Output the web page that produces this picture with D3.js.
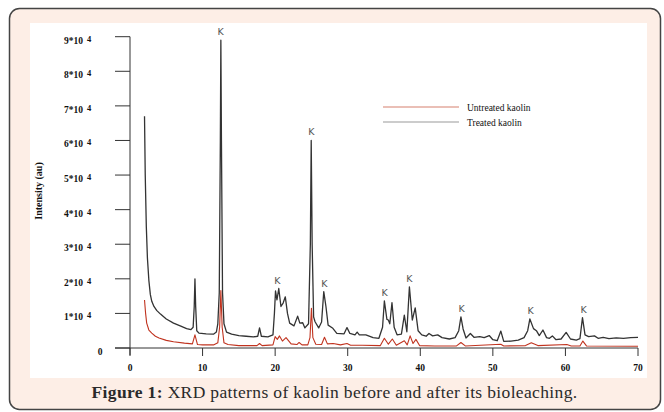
<!DOCTYPE html>
<html>
<head>
<meta charset="utf-8">
<script src="https://cdn.jsdelivr.net/npm/d3@7"></script>
<style>
  body { margin: 0; background: #fff; }
  svg { display: block; }
</style>
</head>
<body>
<div id="container"></div>
<script>
// XRD patterns, 2-theta (deg) vs intensity (au)
var treatedAngle = [2.0, 2.1, 2.25, 2.4, 2.6, 2.8, 3.0, 3.3, 3.7, 4.2, 5.0, 6.0, 7.0, 7.8, 8.4, 8.7, 8.85, 8.95, 9.05, 9.2, 9.5,
  10.5, 11.5, 11.9, 12.1, 12.3, 12.45, 12.52, 12.6, 12.75, 12.95, 13.3, 14, 15, 16, 17, 17.6, 17.85, 18.1, 19, 19.7, 19.9,
  20.05, 20.25, 20.5, 20.8, 21.1, 21.4, 21.7, 22.0, 22.6, 23.1, 23.4, 23.8, 24.1, 24.6, 24.85, 24.97, 25.1, 25.3, 25.5, 26.0,
  26.4, 26.7, 27.0, 27.3, 27.9, 28.5, 29.5, 29.9, 30.3, 31.0, 31.3, 31.6, 32.5, 33.5, 34.3, 34.8, 35.05, 35.4, 35.6, 35.8,
  36.1, 36.4, 36.8, 37.4, 37.8, 38.15, 38.5, 38.9, 39.3, 39.7, 40.2, 40.8, 41.2, 41.7, 42.4, 43.0, 44.0, 44.8, 45.3, 45.6,
  45.9, 46.3, 46.9, 47.4, 48.2, 48.8, 49.5, 50.0, 50.6, 51.1, 51.5, 52.5, 53.5, 54.3, 54.8, 55.1, 55.6, 56.0, 56.4, 56.9,
  57.4, 57.8, 58.2, 58.7, 59.4, 60.1, 60.7, 61.5, 62.0, 62.35, 62.7, 63.2, 64.0, 64.5, 65.2, 66, 67, 68, 69, 70];
var treatedCounts = [67000, 50000, 35000, 26000, 19500, 15500, 13500, 12000, 10800, 9800, 8400, 7200, 6300, 5600, 5300, 6000, 12000, 20000, 12000, 5000, 4300,
  4100, 4000, 4600, 7000, 16000, 60000, 89000, 60000, 16000, 7000, 4600, 4000, 3600, 3400, 3200, 3400, 5800, 3400, 3200, 3800, 10000,
  16500, 13900, 17200, 12000, 13000, 14800, 10000, 7200, 6400, 9200, 7200, 7300, 5800, 7000, 30000, 60000, 30000, 9000, 7600, 5800,
  7500, 16300, 12000, 6600, 5800, 4200, 4100, 5900, 4200, 3800, 4600, 3800, 3800, 3000, 2800, 6000, 13600, 8300, 8100, 7000,
  13100, 6000, 3800, 4000, 9500, 4700, 17700, 8100, 11600, 5000, 3800, 3400, 4200, 3500, 3800, 3000, 2600, 3000, 5000, 9000,
  5500, 2900, 4200, 3100, 3300, 3000, 3600, 2400, 2100, 4900, 1900, 2000, 2300, 3000, 5000, 8400, 5600, 5000, 3600, 5200,
  3000, 2800, 3500, 2400, 2600, 4500, 2600, 2300, 2700, 8800, 3800, 3300, 3500, 2800, 3100, 2700, 2900, 2800, 3000, 3100];

var untreatedAngle = [2.0, 2.15, 2.3, 2.6, 3.0, 3.5, 4.0, 5.0, 6.0, 7.5, 8.6, 8.95, 9.3, 10, 11.5, 12.1, 12.35, 12.52, 12.7, 12.95,
  13.5, 15, 17.5, 17.85, 18.2, 19.7, 20.0, 20.3, 20.6, 21.0, 21.5, 22.2, 23.0, 23.3, 23.7, 24.5, 24.8, 25.0, 25.2, 25.6,
  26.4, 26.8, 27.2, 28.0, 29, 29.9, 30.4, 32, 34.5, 35.05, 35.6, 36.15, 36.7, 37.8, 38.2, 38.6, 39.0, 39.4, 39.9, 42,
  45.0, 45.6, 46.2, 51.1, 51.5, 54.5, 55.3, 56.2, 60.2, 60.8, 62.0, 62.4, 62.9, 70];
var untreatedCounts = [13900, 10000, 7200, 5200, 4300, 3400, 2900, 2200, 1800, 1400, 1200, 3800, 1000, 900, 900, 1500, 6000, 16600, 6000, 1500,
  1000, 700, 700, 1300, 700, 900, 3300, 2500, 3500, 2000, 3000, 1200, 1000, 1600, 900, 900, 3000, 11500, 3000, 1100,
  1000, 3100, 1200, 1300, 900, 1300, 800, 800, 700, 2800, 1100, 2600, 800, 2100, 900, 3500, 1300, 2500, 700, 600,
  600, 1600, 600, 1100, 600, 700, 1500, 700, 1000, 600, 600, 2000, 600, 500];

// kaolinite reflections marked with "K"
var kAngle = [12.5, 20.3, 25.0, 26.8, 35.1, 38.5, 45.7, 55.2, 62.5];
var kCounts = [89000, 17200, 60000, 16300, 13600, 17700, 9000, 8400, 8800];

var xTicks = [0, 10, 20, 30, 40, 50, 60, 70];
var yTicks = [0, 10000, 20000, 30000, 40000, 50000, 60000, 70000, 80000, 90000];
var seriesNames = ["Untreated kaolin", "Treated kaolin"];
var seriesColors = ["#c0331f", "#333333"];

var W = 664, H = 412;
var svg = d3.select("#container").append("svg")
    .attr("width", W)
    .attr("height", H);

// frame
svg.append("rect")
    .attr("x", 9.5).attr("y", 8.5)
    .attr("width", 651).attr("height", 401)
    .attr("rx", 10)
    .style("fill", "#fdeee6")
    .style("stroke", "#444")
    .style("stroke-width", 1.5);

svg.append("rect")
    .attr("x", 30).attr("y", 23)
    .attr("width", 617).attr("height", 355)
    .style("fill", "#fff");

var x = d3.scaleLinear().domain([0, 70]).range([130, 638]);
var y = d3.scaleLinear().domain([0, 90000]).range([348, 36.7]);

var serif = "'Liberation Serif', 'Times New Roman', serif";

// y axis
var yAxis = svg.append("g");
yAxis.append("line")
    .attr("x1", 130).attr("x2", 130)
    .attr("y1", y(90000)).attr("y2", 355)
    .style("stroke", "#333").style("stroke-width", 1);
yAxis.selectAll(".ytick")
    .data(yTicks)
  .enter().append("line")
    .attr("x1", 115).attr("x2", 130)
    .attr("y1", function(d) { return y(d); })
    .attr("y2", function(d) { return y(d); })
    .style("stroke", "#333").style("stroke-width", 1);

var ylab = yAxis.selectAll(".ylab")
    .data(yTicks)
  .enter().append("text")
    .attr("x", function(d) { return d == 0 ? 100 : 64; })
    .attr("y", function(d) { return y(d) + 7; })
    .style("font-family", serif)
    .style("font-weight", "bold")
    .style("font-size", "9.5px")
    .style("fill", "#111")
    .style("text-anchor", function(d) { return d == 0 ? "middle" : "start"; });
ylab.each(function(d) {
  var t = d3.select(this);
  if (d == 0) { t.text("0"); return; }
  t.append("tspan").text((d / 10000) + "*10");
  t.append("tspan").attr("dx", 4).attr("dy", -2).style("font-size", "8.5px").text("4");
});

svg.append("text")
    .attr("transform", "translate(42,191) rotate(-90)")
    .style("font-family", serif)
    .style("font-weight", "bold")
    .style("font-size", "10px")
    .style("text-anchor", "middle")
    .style("fill", "#111")
    .text("Intensity (au)");

// x axis
var xAxis = svg.append("g");
xAxis.append("line")
    .attr("x1", 115).attr("x2", x(70))
    .attr("y1", 348).attr("y2", 348)
    .style("stroke", "#333").style("stroke-width", 1);
xAxis.selectAll(".xtick")
    .data(xTicks)
  .enter().append("line")
    .attr("x1", function(d) { return x(d); })
    .attr("x2", function(d) { return x(d); })
    .attr("y1", 348).attr("y2", 356)
    .style("stroke", "#333").style("stroke-width", 1);
xAxis.selectAll(".xlab")
    .data(xTicks)
  .enter().append("text")
    .attr("x", function(d) { return x(d); })
    .attr("y", 371)
    .style("font-family", serif)
    .style("font-weight", "bold")
    .style("font-size", "9.5px")
    .style("text-anchor", "middle")
    .style("fill", "#111")
    .text(function(d) { return d; });

// curves
var line = d3.line()
    .x(function(d) { return x(d[0]); })
    .y(function(d) { return y(d[1]); });

var untreated = untreatedAngle.map(function(a, i) { return [a, untreatedCounts[i]]; });
var treated = treatedAngle.map(function(a, i) { return [a, treatedCounts[i]]; });

svg.append("path")
    .datum(treated)
    .attr("d", line)
    .style("fill", "none")
    .style("stroke", seriesColors[1])
    .style("stroke-width", 1.3)
    .style("stroke-linejoin", "round");

svg.append("path")
    .datum(untreated)
    .attr("d", line)
    .style("fill", "none")
    .style("stroke", seriesColors[0])
    .style("stroke-width", 1.1)
    .style("stroke-linejoin", "round");

// K labels
svg.selectAll(".klab")
    .data(kAngle)
  .enter().append("text")
    .attr("x", function(d) { return x(d); })
    .attr("y", function(d, i) { return y(kCounts[i]) - 5; })
    .style("font-family", "'DejaVu Sans', sans-serif")
    .style("font-size", "9.5px")
    .style("text-anchor", "middle")
    .style("fill", "#555")
    .text("K");

// legend
var legend = svg.selectAll(".legend")
    .data(seriesNames)
  .enter().append("g")
    .attr("transform", function(d, i) { return "translate(383," + (107 + i * 15) + ")"; });
legend.append("line")
    .attr("x1", 0).attr("x2", 76)
    .style("stroke", function(d, i) { return i == 0 ? "#d5806f" : "#9a9a9a"; })
    .style("stroke-width", 1.2);
legend.append("text")
    .attr("x", 84)
    .attr("y", 3.5)
    .style("font-family", serif)
    .style("font-size", "9.5px")
    .style("fill", "#111")
    .text(function(d) { return d; });

// caption
var cap = svg.append("text")
    .attr("x", 334.5)
    .attr("y", 398)
    .style("font-family", serif)
    .style("font-size", "17.5px")
    .style("letter-spacing", "0.35px")
    .style("text-anchor", "middle")
    .style("fill", "#2a2a2a");
cap.append("tspan").style("font-weight", "bold").text("Figure 1:");
cap.append("tspan").text(" XRD patterns of kaolin before and after its bioleaching.");
</script>
</body>
</html>
